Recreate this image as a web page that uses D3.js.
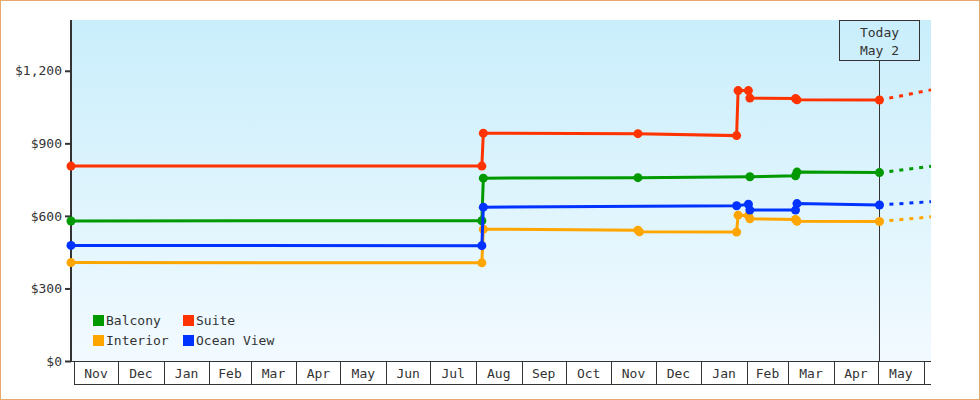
<!DOCTYPE html>
<html>
<head>
<meta charset="utf-8">
<script src="https://cdn.jsdelivr.net/npm/d3@7"></script>
<style>
  body { margin: 0; background: #fff; }
  text { font-family: "DejaVu Sans Mono", monospace; font-size: 13px; fill: #333; }
</style>
</head>
<body>
<div id="chart"></div>
<script>
const svgWidth = 980,
    svgHeight = 400,
    plot = { left: 71, right: 931, top: 20, bottom: 361 };

// series data (date, price)
const balconyDates = ["2016-10-30", "2017-08-05", "2017-08-06", "2017-11-19", "2018-02-03", "2018-03-06", "2018-03-07", "2018-05-02"],
    balconyValues = [579, 580, 756, 758, 762, 766, 781, 779];
const interiorDates = ["2016-10-30", "2017-08-05", "2017-08-06", "2017-11-19", "2017-11-20", "2018-01-25", "2018-01-26", "2018-02-02", "2018-02-03", "2018-03-06", "2018-03-07", "2018-05-02"],
    interiorValues = [407, 406, 545, 541, 534, 533, 603, 601, 588, 585, 578, 577];
const suiteDates = ["2016-10-30", "2017-08-05", "2017-08-06", "2017-11-19", "2018-01-25", "2018-01-26", "2018-02-02", "2018-02-03", "2018-03-06", "2018-03-07", "2018-05-02"],
    suiteValues = [806, 806, 942, 940, 932, 1118, 1118, 1087, 1085, 1080, 1079];
const oceanDates = ["2016-10-30", "2017-08-05", "2017-08-06", "2018-01-25", "2018-02-02", "2018-02-03", "2018-03-06", "2018-03-07", "2018-05-02"],
    oceanValues = [478, 477, 636, 642, 648, 624, 624, 651, 645];

// projected prices after today
const projectionDate = "2018-06-06",
    projectionValues = { Balcony: 805, Interior: 596, Suite: 1121, "Ocean View": 659 };

const todayDate = "2018-05-02",
    todayLabel = ["Today", "May 2"];
const yTicks = [0, 300, 600, 900, 1200];
const axisStart = "2016-11-01", axisEnd = "2018-06-01";

const parse = d3.timeParse("%Y-%m-%d");

const series = [
    { name: "Interior", color: "#ffa500", dates: interiorDates, values: interiorValues },
    { name: "Balcony", color: "#009900", dates: balconyDates, values: balconyValues },
    { name: "Suite", color: "#ff3300", dates: suiteDates, values: suiteValues },
    { name: "Ocean View", color: "#0033ff", dates: oceanDates, values: oceanValues }
];
series.forEach((s) => {
    s.points = s.dates.map((d, i) => ({ date: parse(d), value: s.values[i] }));
});

const svg = d3.select("#chart").append("svg")
    .attr("width", svgWidth)
    .attr("height", svgHeight);

// background gradient
const grad = svg.append("defs").append("linearGradient")
    .attr("id", "bg").attr("x1", 0).attr("y1", 0).attr("x2", 0).attr("y2", 1);
grad.append("stop").attr("offset", "0%").attr("stop-color", "#c9eefb");
grad.append("stop").attr("offset", "100%").attr("stop-color", "#f2faff");

svg.append("rect")
    .attr("x", 0.5).attr("y", 0.5)
    .attr("width", svgWidth - 1).attr("height", svgHeight - 1)
    .attr("fill", "#fff").attr("stroke", "#e6a96b");

svg.append("rect")
    .attr("x", plot.left).attr("y", plot.top)
    .attr("width", plot.right - plot.left).attr("height", plot.bottom - plot.top)
    .attr("fill", "url(#bg)");

// scales
const x = d3.scaleTime()
    .domain([parse("2016-10-30"), parse(projectionDate)])
    .range([plot.left, plot.right]);
const y = d3.scaleLinear()
    .domain([0, 1410])
    .range([plot.bottom, plot.top]);

// y axis
const yAxis = svg.append("g")
    .attr("transform", `translate(${plot.left},0)`)
    .call(d3.axisLeft(y).tickValues(yTicks).tickSize(6).tickPadding(3)
        .tickFormat((d) => "$" + d3.format(",")(d)));
yAxis.select(".domain").remove();
yAxis.selectAll(".tick line").attr("stroke", "#333").attr("stroke-width", 2);
yAxis.selectAll("text").attr("font-family", null).attr("font-size", null).attr("fill", null);
svg.append("line")
    .attr("x1", plot.left).attr("x2", plot.left)
    .attr("y1", plot.top).attr("y2", plot.bottom + 1)
    .attr("stroke", "#333").attr("stroke-width", 2);

// month boxes on x axis
const months = d3.timeMonth.range(parse(axisStart), parse(axisEnd));
const xAxis = svg.append("g");
xAxis.append("line")
    .attr("x1", plot.left).attr("x2", plot.right)
    .attr("y1", plot.bottom + 0.5).attr("y2", plot.bottom + 0.5)
    .attr("stroke", "#333");
xAxis.append("line")
    .attr("x1", Math.round(x(parse(axisStart))) + 0.5).attr("x2", plot.right)
    .attr("y1", 384.5).attr("y2", 384.5)
    .attr("stroke", "#333");
xAxis.selectAll("line.sep")
    .data(months.concat([parse(axisEnd)]))
    .join("line")
    .attr("class", "sep")
    .attr("x1", (d) => Math.round(x(d)) + 0.5)
    .attr("x2", (d) => Math.round(x(d)) + 0.5)
    .attr("y1", plot.bottom).attr("y2", 385)
    .attr("stroke", "#333");
xAxis.selectAll("text")
    .data(months)
    .join("text")
    .attr("x", (d) => (x(d) + x(d3.timeMonth.offset(d, 1))) / 2)
    .attr("y", 378)
    .attr("text-anchor", "middle")
    .text(d3.timeFormat("%b"));

// today marker
const tx = Math.round(x(parse(todayDate))) + 0.5;
svg.append("line")
    .attr("x1", tx).attr("x2", tx)
    .attr("y1", 60).attr("y2", plot.bottom)
    .attr("stroke", "#333");
svg.append("rect")
    .attr("x", tx - 40).attr("y", 20.5)
    .attr("width", 80).attr("height", 40)
    .attr("fill", "none").attr("stroke", "#333");
svg.selectAll("text.today")
    .data(todayLabel)
    .join("text")
    .attr("class", "today")
    .attr("x", tx)
    .attr("y", (d, i) => 37 + i * 18)
    .attr("text-anchor", "middle")
    .text((d) => d);

// lines
const line = d3.line()
    .x((d) => x(d.date))
    .y((d) => y(d.value));

series.forEach((s) => {
    const last = s.points[s.points.length - 1];
    svg.append("path")
        .datum([last, { date: parse(projectionDate), value: projectionValues[s.name] }])
        .attr("d", line)
        .attr("fill", "none")
        .attr("stroke", s.color)
        .attr("stroke-width", 3)
        .attr("stroke-dasharray", "4,6");
});

series.forEach((s) => {
    svg.append("path")
        .datum(s.points)
        .attr("d", line)
        .attr("fill", "none")
        .attr("stroke", s.color)
        .attr("stroke-width", 3);
    svg.append("g").selectAll("circle")
        .data(s.points)
        .join("circle")
        .attr("cx", (d) => x(d.date))
        .attr("cy", (d) => y(d.value))
        .attr("r", 4.5)
        .attr("fill", s.color);
});

// legend
const legendItems = [
    { name: "Balcony", color: "#009900", col: 0, row: 0 },
    { name: "Suite", color: "#ff3300", col: 1, row: 0 },
    { name: "Interior", color: "#ffa500", col: 0, row: 1 },
    { name: "Ocean View", color: "#0033ff", col: 1, row: 1 }
];
const legend = svg.append("g").selectAll("g")
    .data(legendItems)
    .join("g")
    .attr("transform", (d) => `translate(${93 + d.col * 90},${315 + d.row * 20})`);
legend.append("rect")
    .attr("width", 11).attr("height", 11)
    .attr("fill", (d) => d.color);
legend.append("text")
    .attr("x", 13).attr("y", 10)
    .text((d) => d.name);
</script>
</body>
</html>
